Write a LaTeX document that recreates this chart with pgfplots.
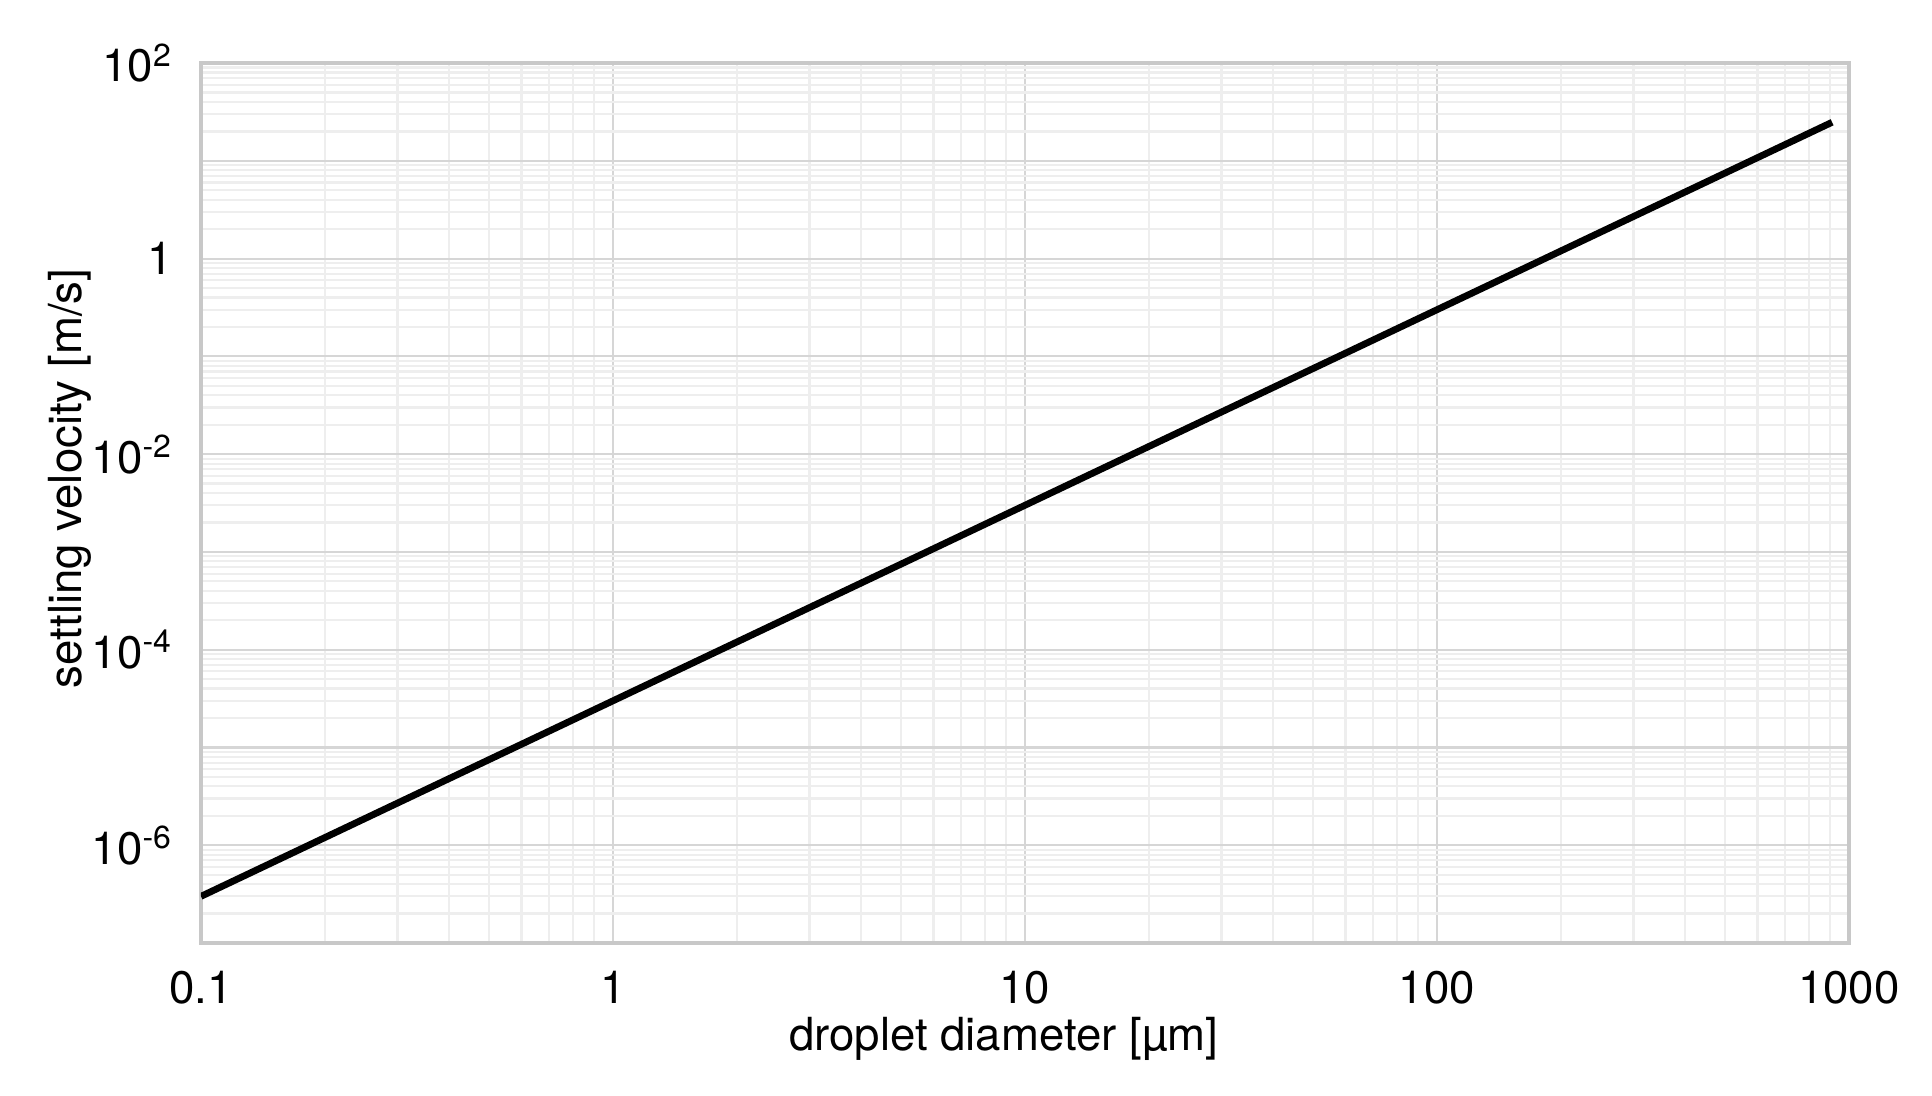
\documentclass[border=0pt]{standalone}
\usepackage{fontspec}
\setmainfont{TeX Gyre Heros}
\usepackage{pgfplots}
\pgfplotsset{compat=1.18}
\definecolor{majgrid}{HTML}{D6D6D6}
\definecolor{mingrid}{HTML}{EEEEEE}
\definecolor{axcol}{HTML}{C8C8C8}
\begin{document}
\fontsize{11.4}{13.7}\selectfont
\begin{tikzpicture}
\begin{axis}[
  scale only axis, width=412pt, height=220pt,
  xmode=log, ymode=log, log basis x=10, log basis y=10,
  xmin=0.1, xmax=1000, ymin=1e-7, ymax=1e2,
  xtick={0.1,1,10,100,1000}, xticklabels={0.1,1,10,100,1000},
  ytick={1e-7,1e-6,1e-5,1e-4,1e-3,1e-2,1e-1,1,1e1,1e2},
  yticklabels={,10\textsuperscript{-6},,10\textsuperscript{-4},,10\textsuperscript{-2},,1,,10\textsuperscript{2}},
  minor xtick={0.2,0.3,0.4,0.5,0.6,0.7,0.8,0.9,2,3,4,5,6,7,8,9,20,30,40,50,60,70,80,90,200,300,400,500,600,700,800,900},
  minor ytick={2e-7,3e-7,4e-7,5e-7,6e-7,7e-7,8e-7,9e-7,
               2e-6,3e-6,4e-6,5e-6,6e-6,7e-6,8e-6,9e-6,
               2e-5,3e-5,4e-5,5e-5,6e-5,7e-5,8e-5,9e-5,
               2e-4,3e-4,4e-4,5e-4,6e-4,7e-4,8e-4,9e-4,
               2e-3,3e-3,4e-3,5e-3,6e-3,7e-3,8e-3,9e-3,
               2e-2,3e-2,4e-2,5e-2,6e-2,7e-2,8e-2,9e-2,
               0.2,0.3,0.4,0.5,0.6,0.7,0.8,0.9,
               2,3,4,5,6,7,8,9,
               20,30,40,50,60,70,80,90},
  major tick length=0pt, minor tick length=0pt,
  grid=both,
  major grid style={majgrid, line width=0.55pt},
  minor grid style={mingrid, line width=0.55pt},
  axis line style={axcol, line width=0.8pt},
  xticklabel style={font=\fontsize{11.4}{13.7}\selectfont, yshift=-3pt},
  yticklabel style={font=\fontsize{11.4}{13.7}\selectfont, xshift=-3pt},
  xlabel={droplet diameter [µm]},
  ylabel={settling velocity [m/s]},
  xlabel style={at={(axis description cs:0.487,-0.109)}, anchor=center, font=\fontsize{11.4}{13.7}\selectfont},
  ylabel style={at={(axis description cs:-0.0795,0.528)}, anchor=center, font=\fontsize{11.4}{13.7}\selectfont},
]
\addplot[black, line width=1.7pt] coordinates {
  (0.1,3e-7) (1,3e-5) (10,3e-3) (100,0.3) (910,24.8)
};
\end{axis}
\pgfresetboundingbox
\path (current axis.south west) ++(-50.25pt,-38pt) rectangle ++(483pt,273.75pt);
\end{tikzpicture}
\end{document}
